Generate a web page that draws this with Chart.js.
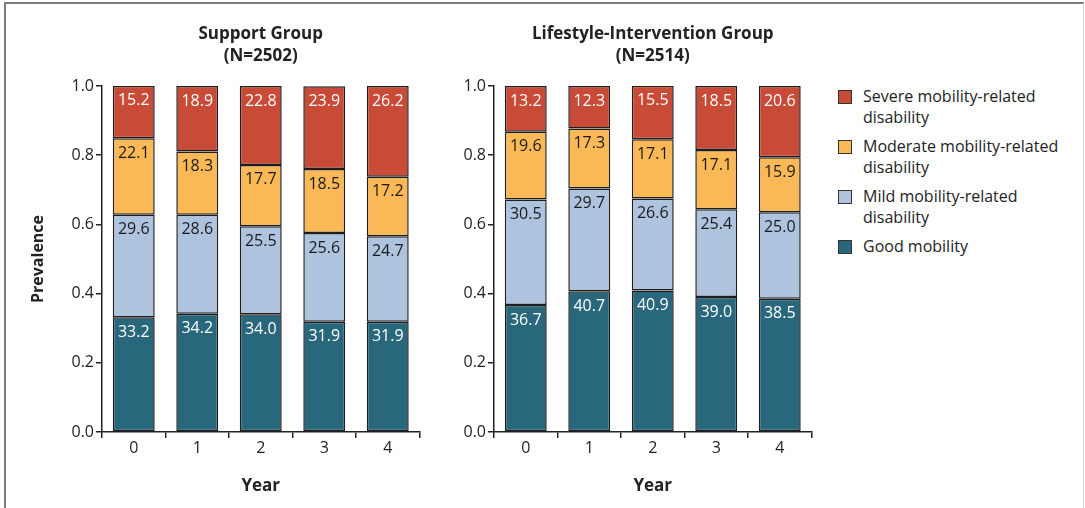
<!DOCTYPE html>
<html>
<head>
<meta charset="utf-8">
<script src="https://cdn.jsdelivr.net/npm/chart.js@4.4.1/dist/chart.umd.min.js"></script>
<style>
  body { margin: 0; background: #fff; width: 1085px; height: 508px; overflow: hidden; position: relative; font-family: "Open Sans", sans-serif; }
  #frame { position: absolute; left: 4px; top: 2px; width: 1077px; height: 520px; border-top: 2px solid #7d7d7d; border-left: 2px solid #7d7d7d; border-right: 1px solid #d4d4d4; }
  .wrap { position: absolute; top: 5px; height: 503px; }
  #leftWrap { left: 10px; width: 420px; }
  #rightWrap { left: 445px; width: 377px; }
  #legend { position: absolute; left: 838px; top: 86px; font-size: 16px; color: #222; line-height: 21px; }
  .item { position: relative; padding-left: 25px; margin-bottom: 8px; }
  .swatch { position: absolute; left: 0; top: 4px; width: 12px; height: 12px; border: 1.5px solid #333; }
</style>
</head>
<body>
<div id="frame"></div>
<div class="wrap" id="leftWrap"><canvas id="supportChart"></canvas></div>
<div class="wrap" id="rightWrap"><canvas id="lifestyleChart"></canvas></div>
<div id="legend"></div>
<script>
const years = ['0', '1', '2', '3', '4'];
const yTicks = [0, 0.2, 0.4, 0.6, 0.8, 1.0];

// percentages per year, support group
const supportGood = [33.2, 34.2, 34.0, 31.9, 31.9];
const supportMild = [29.6, 28.6, 25.5, 25.6, 24.7];
const supportModerate = [22.1, 18.3, 17.7, 18.5, 17.2];
const supportSevere = [15.2, 18.9, 22.8, 23.9, 26.2];

// percentages per year, lifestyle-intervention group
const lifestyleGood = [36.7, 40.7, 40.9, 39.0, 38.5];
const lifestyleMild = [30.5, 29.7, 26.6, 25.4, 25.0];
const lifestyleModerate = [19.6, 17.3, 17.1, 17.1, 15.9];
const lifestyleSevere = [13.2, 12.3, 15.5, 18.5, 20.6];

const seriesNames = ['Good mobility', 'Mild mobility-related disability', 'Moderate mobility-related disability', 'Severe mobility-related disability'];
const seriesColors = ['#29677d', '#aec3de', '#fab856', '#c84b37'];
const labelColors = ['#ffffff', '#1a1a1a', '#1a1a1a', '#ffffff'];

const FONT = '"Open Sans", sans-serif';
const INK = '#222';

const segLabels = {
  id: 'segLabels',
  afterDatasetsDraw(chart) {
    const ctx = chart.ctx;
    ctx.save();
    ctx.font = '16px ' + FONT;
    ctx.textAlign = 'center';
    ctx.textBaseline = 'middle';
    chart.data.datasets.forEach((ds, i) => {
      const meta = chart.getDatasetMeta(i);
      ctx.fillStyle = labelColors[i];
      meta.data.forEach((bar, j) => {
        ctx.fillText(ds.pct[j].toFixed(1), bar.x, bar.y + 15);
      });
    });
    ctx.restore();
  }
};

const panelTitle = {
  id: 'panelTitle',
  afterDraw(chart, args, opts) {
    const ctx = chart.ctx;
    const a = chart.chartArea;
    const cx = (a.left + a.right) / 2;
    ctx.save();
    ctx.font = 'bold 17px ' + FONT;
    ctx.fillStyle = INK;
    ctx.textAlign = 'center';
    ctx.textBaseline = 'middle';
    ctx.fillText(opts.lines[0], cx, 29);
    ctx.fillText(opts.lines[1], cx, 51);
    ctx.restore();
  }
};

function makeChart(id, lines, good, mild, moderate, severe, yWidth, showYTitle) {
  const groups = [good, mild, moderate, severe];
  return new Chart(document.getElementById(id), {
    type: 'bar',
    data: {
      labels: years,
      datasets: groups.map((vals, i) => ({
        label: seriesNames[i],
        data: vals.map(v => v / 100),
        pct: vals,
        backgroundColor: seriesColors[i],
        borderColor: '#1e1e1e',
        borderWidth: 1.5,
        borderSkipped: false,
        categoryPercentage: 1,
        barPercentage: 0.66
      }))
    },
    options: {
      responsive: true,
      maintainAspectRatio: false,
      animation: false,
      layout: { padding: { top: 81, right: 10.5, left: 0, bottom: 0 } },
      plugins: {
        legend: { display: false },
        tooltip: { enabled: false },
        panelTitle: { lines: lines }
      },
      scales: {
        x: {
          stacked: true,
          grid: { display: true, drawOnChartArea: false, tickLength: 6, color: INK, lineWidth: 1.5 },
          border: { display: true, color: INK, width: 1.5 },
          ticks: { color: INK, font: { family: FONT, size: 16 }, padding: 1 },
          title: { display: true, text: 'Year', color: INK, font: { family: FONT, size: 17, weight: 'bold' }, padding: { top: 0, bottom: 12 } },
          afterFit(scale) { scale.height = 76; }
        },
        y: {
          stacked: true,
          min: 0,
          max: 1,
          afterBuildTicks(scale) { scale.ticks = yTicks.map(v => ({ value: v })); },
          grid: { display: true, drawOnChartArea: false, tickLength: 6, color: INK, lineWidth: 1.5 },
          border: { display: true, color: INK, width: 1.5 },
          ticks: { color: INK, font: { family: FONT, size: 16 }, padding: 2, callback: v => v.toFixed(1) },
          title: { display: showYTitle, text: 'Prevalence', color: INK, font: { family: FONT, size: 16, weight: 'bold' }, padding: { top: 19, bottom: 0 } },
          afterFit(scale) { scale.width = yWidth; }
        }
      }
    },
    plugins: [segLabels, panelTitle]
  });
}

makeChart('supportChart', ['Support Group', '(N=2502)'], supportGood, supportMild, supportModerate, supportSevere, 92, true);
makeChart('lifestyleChart', ['Lifestyle-Intervention Group', '(N=2514)'], lifestyleGood, lifestyleMild, lifestyleModerate, lifestyleSevere, 49, false);

// legend, top entry first
const legendTexts = [
  ['Severe mobility-related', 'disability'],
  ['Moderate mobility-related', 'disability'],
  ['Mild mobility-related', 'disability'],
  ['Good mobility']
];
const legendEl = document.getElementById('legend');
legendTexts.forEach((t, k) => {
  const idx = 3 - k;
  const item = document.createElement('div');
  item.className = 'item';
  item.innerHTML = '<span class="swatch" style="background:' + seriesColors[idx] + '"></span>' + t.join('<br>');
  legendEl.appendChild(item);
});
</script>
</body>
</html>
